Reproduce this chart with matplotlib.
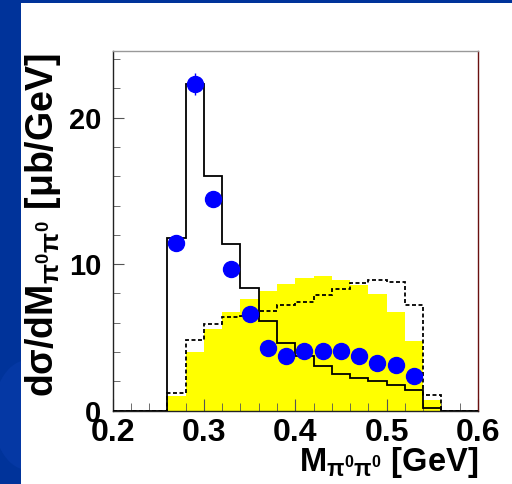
import numpy as np
import matplotlib
matplotlib.use('Agg')
import matplotlib.pyplot as plt
from matplotlib.patches import Rectangle, Ellipse
from matplotlib.ticker import MultipleLocator, FormatStrFormatter

plt.rcParams['font.family'] = ['Liberation Sans', 'DejaVu Sans']
plt.rcParams['font.weight'] = 'bold'
plt.rcParams['mathtext.fontset'] = 'custom'
plt.rcParams['mathtext.rm'] = 'Liberation Sans:bold'
plt.rcParams['mathtext.it'] = 'Liberation Sans:bold'
plt.rcParams['mathtext.bf'] = 'Liberation Sans:bold'
plt.rcParams['mathtext.default'] = 'rm'

# bins de 20 MeV entre 0.2 e 0.6 GeV
bin_edges = [0.20, 0.22, 0.24, 0.26, 0.28, 0.30, 0.32, 0.34, 0.36, 0.38, 0.40,
             0.42, 0.44, 0.46, 0.48, 0.50, 0.52, 0.54, 0.56, 0.58, 0.60]

# modelos (histogramas)
model_solid = [0, 0, 0, 11.8, 22.3, 16.0, 11.4, 8.4, 6.1, 4.65, 3.7,
               3.05, 2.5, 2.2, 2.0, 1.75, 1.4, 0.16, 0, 0]
model_dashed = [0, 0, 0, 1.2, 4.8, 5.9, 6.4, 6.45, 6.8, 7.2, 7.45,
                7.9, 8.3, 8.7, 8.95, 8.8, 7.2, 1.1, 0, 0]
phase_space = [0, 0, 0, 1.0, 4.0, 5.55, 6.75, 7.6, 8.2, 8.65, 9.05,
               9.2, 8.9, 8.55, 7.95, 6.75, 4.75, 0.7, 0, 0]

# dados
data_m = [0.27, 0.29, 0.31, 0.33, 0.35, 0.37, 0.39, 0.41, 0.43, 0.45,
          0.47, 0.49, 0.51, 0.53]
data_xs = [11.45, 22.3, 14.45, 9.65, 6.6, 4.3, 3.7, 4.1, 4.05, 4.05,
           3.75, 3.25, 3.15, 2.4]
data_err = [0.5, 0.75, 0.55, 0.45, 0.4, 0.35, 0.3, 0.3, 0.3, 0.3,
            0.3, 0.3, 0.3, 0.3]

fig = plt.figure(figsize=(5.12, 4.84), dpi=100, facecolor='white')

# fundo do slide
band = Rectangle((0, 0), 21 / 512, 1, transform=fig.transFigure,
                 facecolor='#00339a', edgecolor='none', zorder=0)
fig.add_artist(band)
swirl = Ellipse((28 / 512, 1 - 415 / 484), 70 / 512, 110 / 484,
                transform=fig.transFigure, facecolor='#0538a4',
                edgecolor='none', zorder=0.5)
fig.add_artist(swirl)
swirl.set_clip_path(band)
fig.add_artist(Rectangle((0, 1 - 3 / 484), 1, 3 / 484, transform=fig.transFigure,
                         facecolor='#00339a', edgecolor='none', zorder=0))

ax = fig.add_axes([112.5 / 512, 1 - 410.7 / 484, 365.5 / 512, 359.7 / 484])

ax.stairs(phase_space, bin_edges, fill=True, color='#ffff00', zorder=1)
ax.stairs(model_dashed, bin_edges, color='black', lw=1.3,
          linestyle=(0, (2.2, 1.4)), zorder=2)
ax.stairs(model_solid, bin_edges, color='black', lw=1.3, zorder=3)
ax.errorbar(data_m, data_xs, yerr=data_err, fmt='o', color='#0000ff',
            markersize=11.5, elinewidth=1, capsize=0, zorder=4)

ax.set_xlim(0.2, 0.6)
ax.set_ylim(0, 24.55)

ax.xaxis.set_major_locator(MultipleLocator(0.1))
ax.xaxis.set_minor_locator(MultipleLocator(0.02))
ax.xaxis.set_major_formatter(FormatStrFormatter('%.1f'))
ax.yaxis.set_major_locator(MultipleLocator(10))
ax.yaxis.set_minor_locator(MultipleLocator(2))
ax.tick_params(which='both', direction='in', top=False, right=False, color='#555555')
ax.tick_params(axis='x', which='major', length=9, labelsize=23, pad=5)
ax.tick_params(axis='x', which='minor', length=6)
ax.tick_params(axis='y', which='major', length=8, labelsize=21, pad=8)
ax.tick_params(axis='y', which='minor', length=5)

for s in ['left', 'bottom']:
    ax.spines[s].set_color('#222222')
ax.spines['top'].set_color('#999999')
ax.spines['right'].set_color('#6a1010')
for s in ax.spines.values():
    s.set_linewidth(1.0)

ax.text(-0.19, 0.515, r'd$\sigma$/dM$_{\pi^0\pi^0}$ [$\mu$b/GeV]',
        transform=ax.transAxes, rotation=90, ha='center', va='center',
        fontsize=27, fontweight='bold')
ax.text(1.0, -0.168, r'M$_{\pi^0\pi^0}$ [GeV]', transform=ax.transAxes,
        ha='right', va='baseline', fontsize=23.5, fontweight='bold')

fig.savefig('out.png', dpi=100, facecolor='white')
